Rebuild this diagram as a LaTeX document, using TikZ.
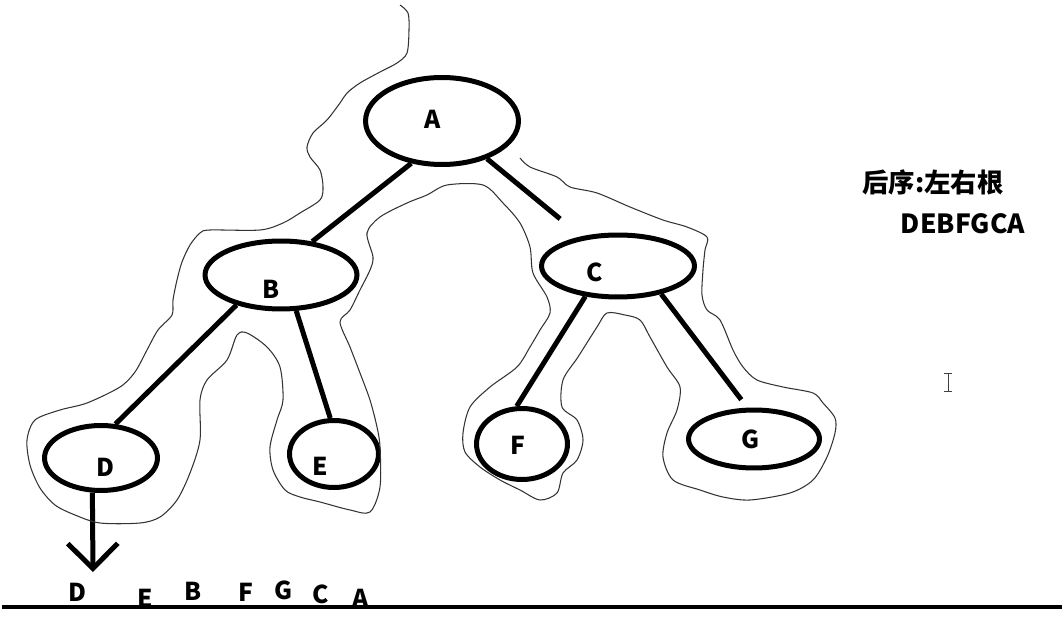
\documentclass[tikz,border=0pt]{standalone}
\usepackage{fontspec}
\setmainfont{Noto Sans CJK SC}
\usetikzlibrary{shapes.geometric}
\usetikzlibrary{arrows.meta}

\begin{document}
\begin{tikzpicture}[x=0.02cm, y=-0.02cm,
		vertex/.style={draw, ellipse, line width=0.1cm, inner sep=0pt},
		letter/.style={font=\fontsize{14}{16}\selectfont\bfseries, inner sep=0pt},
		branch/.style={line width=0.1cm},
		trace/.style={line width=0.6pt, black!80}]
	\useasboundingbox (0,0) rectangle (1062,621);
	\node[vertex, minimum width=3.06cm, minimum height=1.74cm] (A) at (442,121) {};
	\node[vertex, minimum width=3.04cm, minimum height=1.36cm] (B) at (281,275) {};
	\node[vertex, minimum width=3.06cm, minimum height=1.24cm] (C) at (618,266) {};
	\node[vertex, minimum width=2.26cm, minimum height=1.30cm] (D) at (101,458) {};
	\node[vertex, minimum width=1.78cm, minimum height=1.34cm] (E) at (334,454) {};
	\node[vertex, minimum width=1.82cm, minimum height=1.42cm] (F) at (522,444) {};
	\node[vertex, minimum width=2.62cm, minimum height=1.16cm] (G) at (754,439) {};
	\node[letter] (lA) at (433,119) {A};
	\node[letter] (lB) at (271,289) {B};
	\node[letter] (lC) at (595,272) {C};
	\node[letter] (lD) at (105,467) {D};
	\node[letter] (lE) at (320,466) {E};
	\node[letter] (lF) at (518,445) {F};
	\node[letter] (lG) at (751,439) {G};
	\draw[branch] (A.234) -- (B.47);
	\draw[branch, shorten >=0.55cm] (A.320) -- (C.141);
	\draw[branch] (B.214) -- (D.67);
	\draw[branch] (B.293) -- (E.96);
	\draw[branch] (C.223) -- (F.98);
	\draw[branch, shorten >=0.2cm] (C.327) -- (G.102);
	\coordinate (dtip) at (93,572);
	\draw[branch, -{Straight Barb[length=0.5cm, width=1cm, line width=0.1cm]}] (D.256) -- (dtip);
	\draw[trace] plot[smooth, tension=0.5] coordinates {
		(400,5) (408,13) (409,30) (407,53) (397,63) (380,72) (360,83) (347,93)
		(340,103) (327,120) (313,133) (307,147) (310,157) (320,170) (323,187)
		(320,200) (300,213) (283,223) (260,230) (210,230) (200,233) (190,245)
		(182,262) (177,280) (173,300) (172,315) (158,330) (147,350) (135,372)
		(120,387) (87,403) (60,410) (35,420) (27,440) (30,465) (40,488) (55,505)
		(75,515) (100,523) (140,523) (160,517) (177,500) (190,473) (200,440)
		(200,400) (207,380) (227,360) (237,335) (247,333) (267,347) (280,367)
		(283,400) (277,420) (270,447) (273,470) (285,490) (300,497) (320,502)
		(350,510) (370,512) (380,487) (380,447) (377,427) (370,400) (360,373)
		(350,347) (340,322) (350,310) (360,290) (370,270) (373,257) (367,233)
		(380,217) (407,203) (427,195) (447,185) (483,185) (503,203) (520,223)
		(530,247) (533,273) (547,297) (550,313) (540,330) (530,347) (517,367)
		(490,387) (470,407) (463,433) (465,452) (480,467) (500,480) (520,490)
		(540,500) (557,493) (563,473) (577,460) (583,440) (577,420) (562,407)
		(563,380) (578,357) (597,327) (607,313) (625,315) (640,320) (650,337)
		(667,367) (680,387) (677,410) (667,433) (663,457) (673,480) (700,490)
		(723,497) (750,500) (790,493) (813,480) (827,457) (835,433) (835,418)
		(823,403) (813,393) (783,387) (757,380) (743,367) (733,350) (720,320)
		(707,310) (702,295) (703,270) (705,250) (707,237) (687,227) (663,220)
		(630,207) (597,193) (570,187) (557,177) (530,167) (520,158)};
	\coordinate (lineL) at (2,607);
	\coordinate (lineR) at (1062,607);
	\draw[line width=0.09cm] (lineL) -- (lineR);
	\foreach \name/\px/\py in {D/77/592, E/145/598, B/193/591, F/246/592, G/284/590, C/321/594, A/361/598}
		\node[letter] (s\name) at (\px,\py) {\name};
	\node[letter, font=\fontsize{15}{18}\selectfont\bfseries] (rule) at (933,182) {后序:左右根};
	\node[letter, font=\fontsize{15}{18}\selectfont\bfseries] (order) at (963,224) {DEBFGCA};
	\draw[black!75, line width=0.5pt] (944,373) -- (952,373) (948,373) -- (948,391) (944,391) -- (952,391);
\end{tikzpicture}
\end{document}
